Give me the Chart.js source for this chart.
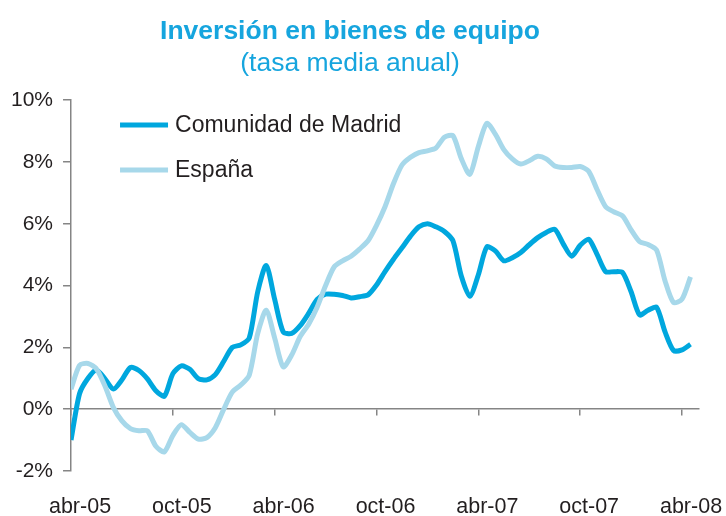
<!DOCTYPE html>
<html>
<head>
<meta charset="utf-8">
<title>Inversión en bienes de equipo</title>
<script src="https://cdn.jsdelivr.net/npm/chart.js@4/dist/chart.umd.min.js"></script>
<style>
    html, body { margin: 0; padding: 0; background: #ffffff; }
    #wrap { width: 726px; height: 516px; }
</style>
</head>
<body>
<div id="wrap"><canvas id="chart" width="726" height="516"></canvas></div>
<script>
// months since abr-05, half-month steps
const months = [
    0, 0.5, 1, 1.5, 2, 2.5, 3, 3.5, 4, 4.5, 5, 5.5, 6, 6.5, 7, 7.5, 8, 8.5,
    9, 9.5, 10, 10.5, 11, 11.5, 12, 12.5, 13, 13.5, 14, 14.5, 15, 15.5, 16, 16.5,
    17, 17.5, 18, 18.5, 19, 19.5, 20, 20.5, 21, 21.5, 22, 22.5, 23, 23.5, 24, 24.5,
    25, 25.5, 26, 26.5, 27, 27.5, 28, 28.5, 29, 29.5, 30, 30.5, 31, 31.5, 32, 32.5,
    33, 33.5, 34, 34.5, 35, 35.5, 36, 36.5
];

const madrid = [
    -1.0, 0.5, 1.0, 1.27, 0.98, 0.65, 0.95, 1.35, 1.25, 0.98, 0.6, 0.42, 1.15, 1.4,
    1.29, 0.99, 0.95, 1.12, 1.55, 2.0, 2.08, 2.3, 3.8, 4.65, 3.55, 2.5, 2.45, 2.7,
    3.1, 3.55, 3.72, 3.72, 3.68, 3.6, 3.64, 3.7, 4.02, 4.45, 4.85, 5.22, 5.6, 5.9,
    6.0, 5.9, 5.75, 5.45, 4.3, 3.65, 4.35, 5.25, 5.12, 4.8, 4.9, 5.07, 5.32, 5.55,
    5.72, 5.82, 5.35, 4.95, 5.3, 5.5, 5.0, 4.45, 4.45, 4.42, 3.8, 3.05, 3.2, 3.3,
    2.5, 1.9, 1.92, 2.1
];

const espana = [
    0.65, 1.42, 1.48, 1.3, 0.75, 0.05, -0.38, -0.63, -0.7, -0.7, -1.2, -1.38, -0.85, -0.5,
    -0.75, -0.97, -0.92, -0.6, 0.0, 0.55, 0.78, 1.1, 2.45, 3.2, 2.3, 1.37, 1.75, 2.35,
    2.75, 3.3, 4.0, 4.6, 4.8, 4.95, 5.18, 5.45, 5.95, 6.55, 7.3, 7.9, 8.15, 8.3,
    8.36, 8.45, 8.8, 8.85, 8.1, 7.6, 8.5, 9.25, 8.9, 8.4, 8.1, 7.93, 8.04, 8.18,
    8.1, 7.87, 7.82, 7.82, 7.85, 7.7, 7.1, 6.55, 6.38, 6.25, 5.8, 5.42, 5.33, 5.15,
    4.15, 3.45, 3.56, 4.28
];

const tickMonths = [0, 6, 12, 18, 24, 30, 36];
const tickLabels = ["abr-05", "oct-05", "abr-06", "oct-06", "abr-07", "oct-07", "abr-08"];

const seriesNames = ["Comunidad de Madrid", "España"];

const FONT = '"Liberation Sans", Arial, Helvetica, sans-serif';
const BLUE = "#00a7de";
const LIGHT = "#a7d8ea";
const TITLE = "#16a5de";
const TEXT = "#231f20";
const AXIS = "#858585";

function toPoints(values) {
    return values.map((v, i) => ({ x: months[i], y: v }));
}

function setTicks(axis) {
    axis.ticks = tickMonths.map((v) => ({ value: v }));
}

// legend drawn inside the plot, top left, as in the original
const insideLegend = {
    id: "insideLegend",
    afterDraw(chart) {
        const ctx = chart.ctx;
        const area = chart.chartArea;
        ctx.save();
        chart.data.datasets.forEach((ds, i) => {
            const x = area.left + 49;
            const y = area.top + 25 + i * 45;
            ctx.strokeStyle = ds.borderColor;
            ctx.lineWidth = 5;
            ctx.beginPath();
            ctx.moveTo(x, y);
            ctx.lineTo(x + 48, y);
            ctx.stroke();
            ctx.fillStyle = TEXT;
            ctx.font = "23px " + FONT;
            ctx.textBaseline = "middle";
            ctx.textAlign = "left";
            ctx.fillText(ds.label, x + 55, y + 1);
        });
        ctx.restore();
    },
};

const ctx = document.getElementById("chart").getContext("2d");

new Chart(ctx, {
    type: "line",
    data: {
        datasets: [
            {
                label: seriesNames[0],
                data: toPoints(madrid),
                borderColor: BLUE,
                backgroundColor: BLUE,
                borderWidth: 5,
                pointRadius: 0,
                tension: 0.25,
                borderJoinStyle: "round",
                order: 1,
            },
            {
                label: seriesNames[1],
                data: toPoints(espana),
                borderColor: LIGHT,
                backgroundColor: LIGHT,
                borderWidth: 5,
                pointRadius: 0,
                tension: 0.25,
                borderJoinStyle: "round",
                order: 0,
            },
        ],
    },
    options: {
        responsive: false,
        animation: false,
        layout: { padding: { left: 1, right: 27, top: 0, bottom: 0 } },
        plugins: {
            legend: { display: false },
            tooltip: { enabled: false },
            title: {
                display: true,
                text: "Inversión en bienes de equipo",
                color: TITLE,
                font: { family: FONT, size: 26.5, weight: "bold" },
                padding: { top: 16, bottom: 0 },
            },
            subtitle: {
                display: true,
                text: "(tasa media anual)",
                color: TITLE,
                font: { family: FONT, size: 26.5, weight: "normal" },
                padding: { top: 0, bottom: 20.5 },
            },
        },
        scales: {
            x: {
                type: "linear",
                position: "bottom",
                min: 0,
                max: 37,
                afterBuildTicks: setTicks,
                afterFit: (scale) => {
                    scale.height = 45;
                    scale.paddingLeft = 0;
                    scale.paddingRight = 0;
                },
                border: { display: false },
                grid: { display: false, drawTicks: false },
                ticks: {
                    autoSkip: false,
                    maxRotation: 0,
                    labelOffset: 9,
                    padding: 23,
                    color: TEXT,
                    font: { family: FONT, size: 21.5 },
                    callback: (value) => tickLabels[tickMonths.indexOf(value)],
                },
            },
            x2: {
                type: "linear",
                position: { y: 0 },
                min: 0,
                max: 37,
                afterBuildTicks: setTicks,
                afterFit: (scale) => {
                    scale.height = 0;
                },
                ticks: { display: false },
                grid: {
                    drawOnChartArea: false,
                    drawTicks: true,
                    tickLength: 6,
                    color: AXIS,
                    lineWidth: 1.5,
                },
                border: { display: true, color: AXIS, width: 1.5 },
            },
            y: {
                min: -2,
                max: 10,
                border: { display: true, color: AXIS, width: 1.5 },
                grid: {
                    drawOnChartArea: false,
                    drawTicks: true,
                    tickLength: 8,
                    color: AXIS,
                    lineWidth: 1.5,
                },
                ticks: {
                    stepSize: 2,
                    padding: 10,
                    color: TEXT,
                    font: { family: FONT, size: 21 },
                    callback: (value) => value + "%",
                },
            },
        },
    },
    plugins: [insideLegend],
});
</script>
</body>
</html>
